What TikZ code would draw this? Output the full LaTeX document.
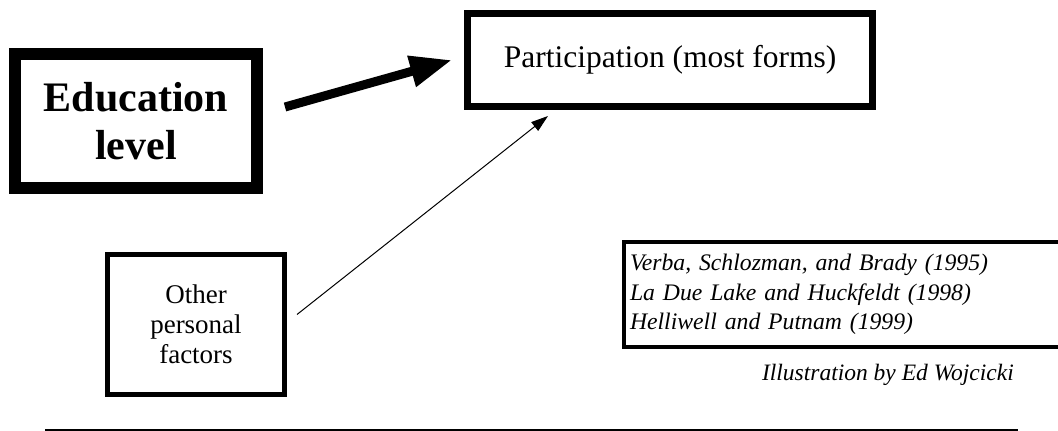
\documentclass[tikz,border=0pt]{standalone}
\usepackage{fontspec}
\setmainfont{Liberation Serif}
\usetikzlibrary{arrows.meta}

\tikzset{
    factorbox/.style={draw, rectangle, align=center, inner sep=0pt},
    bigarrow/.style={-{Triangle[length=42pt,width=30pt]}, line width=9pt},
    smallarrow/.style={-{Triangle[length=17pt,width=11pt]}, line width=1pt}
}

\begin{document}
\begin{tikzpicture}[x=1pt,y=-1pt]
        \useasboundingbox (0,0) rectangle (1058,431);
        \clip (0,0) rectangle (1058,431);

        % Draw the boxes
        \node[factorbox, line width=12pt, minimum width=242pt, minimum height=134pt,
              font=\fontsize{42}{48}\selectfont\bfseries] (edu) at (136,121) {Education\\level};
        \node[factorbox, line width=7pt, minimum width=405pt, minimum height=93pt,
              font=\fontsize{31.5}{36}\selectfont] (part) at (670,60) {Participation (most forms)};
        \node[factorbox, line width=5pt, minimum width=177pt, minimum height=140pt,
              font=\fontsize{27}{30}\selectfont] (other) at (196,324.5) {Other\\personal\\factors};

        % Sources box (runs off the right edge)
        \node[draw, line width=4pt, anchor=west, text width=480pt, align=left,
              inner xsep=6pt, minimum height=105pt,
              font=\fontsize{23.7}{29.5}\selectfont\itshape] (cites) at (622,294.5)
              {Verba, Schlozman, and Brady (1995)\\La Due Lake and Huckfeldt (1998)\\Helliwell and Putnam (1999)};

        % Credit and rule
        \node[anchor=base east, inner sep=0pt, font=\fontsize{23.5}{28}\selectfont\itshape] (credit) at (1014,380)
              {Illustration by Ed Wojcicki};
        \coordinate (ruleL) at (45,430);
        \coordinate (ruleR) at (1018,430);
        \draw[line width=1.2pt] (ruleL) -- (ruleR);

        % Draw the effects
        \draw[bigarrow] ([xshift=22pt,yshift=14pt]edu.east) -- ([xshift=-12pt]part.west);
        \draw[smallarrow] ([xshift=10pt,yshift=10pt]other.east) -- ([xshift=84pt,yshift=-6pt]part.south west);
    \end{tikzpicture}
\end{document}
